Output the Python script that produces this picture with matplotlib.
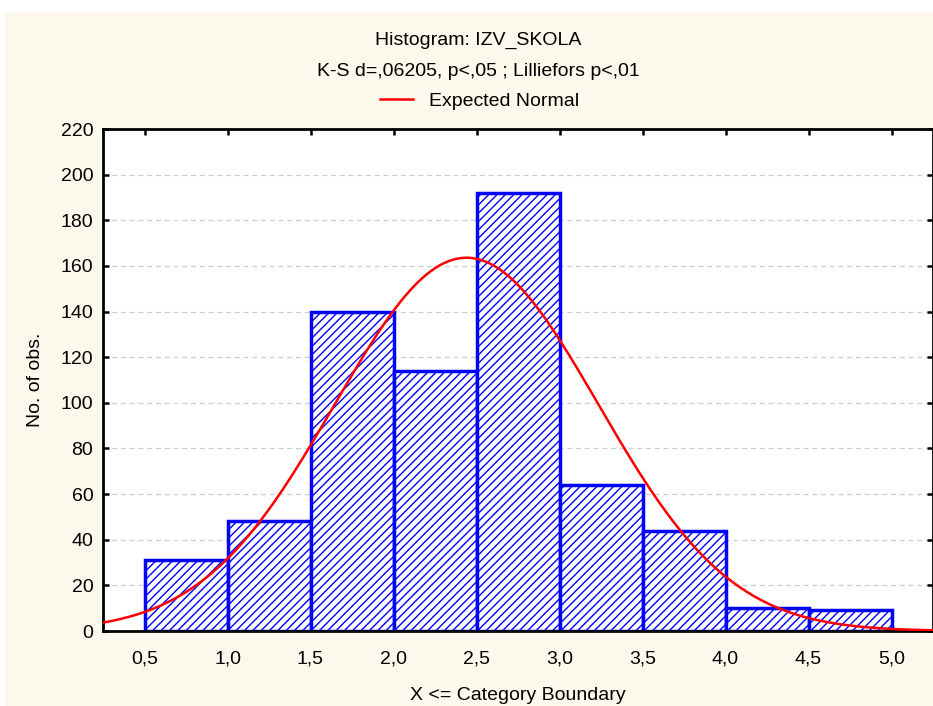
import matplotlib.pyplot as plt
import numpy as np
from matplotlib.patches import Rectangle
from matplotlib.lines import Line2D

# category boundaries and counts
bin_left = [0.5, 1.0, 1.5, 2.0, 2.5, 3.0, 3.5, 4.0, 4.5]
counts = [31, 48, 140, 114, 192, 64, 44, 10, 9]
bin_width = 0.5

# expected normal parameters
mean = 2.44
sd = 0.795

xticks = [0.5, 1.0, 1.5, 2.0, 2.5, 3.0, 3.5, 4.0, 4.5, 5.0]
yticks = list(range(0, 221, 20))

plt.rcParams['font.family'] = ['Liberation Sans', 'DejaVu Sans']
plt.rcParams['hatch.color'] = '#4848ff'
plt.rcParams['hatch.linewidth'] = 1.0

fs = 14
cream = '#fcf8ec'
fig = plt.figure(figsize=[9.33, 7.06], dpi=100, facecolor='white')
fig.patches.append(Rectangle((5 / 933, 0), 1, 1 - 12 / 706, transform=fig.transFigure,
                             facecolor=cream, edgecolor='none', zorder=-10))

ax = fig.add_axes([103 / 933, 1 - 631 / 706, 1 - 103 / 933, (631 - 129) / 706])
ax.set_facecolor('white')

ax.bar(bin_left, counts, width=bin_width, align='edge', facecolor='white',
       edgecolor='#0000ff', linewidth=2.5, hatch='////', zorder=2)

n = sum(counts)
xs = np.linspace(0.25, 5.3, 400)
ys = n * bin_width / (sd * np.sqrt(2 * np.pi)) * np.exp(-0.5 * ((xs - mean) / sd) ** 2)
ax.plot(xs, ys, color='red', lw=1.8, zorder=3)

ax.set_xlim(0.25, 5.25)
ax.set_ylim(0, 220)
ax.set_xticks(xticks)
ax.set_xticklabels([f'{v:.1f}'.replace('.', ',') for v in xticks])
ax.set_yticks(yticks)
ax.yaxis.grid(True, linestyle=(0, (4, 3)), color='#cccccc', lw=0.9, zorder=0)
ax.set_axisbelow(True)
ax.tick_params(direction='in', length=4, width=1.8, labelsize=fs,
               top=True, right=True, pad=7)
ax.tick_params(axis='x', pad=14)
for s in ax.spines.values():
    s.set_linewidth(2)

ax.set_xlabel('X <= Category Boundary', fontsize=fs, labelpad=14)
ax.set_ylabel('No. of obs.', fontsize=fs, labelpad=12)

fig.text(0.513, 1 - 40 / 706, 'Histogram: IZV_SKOLA', ha='center', va='center', fontsize=fs)
fig.text(0.513, 1 - 72 / 706, 'K-S d=,06205, p<,05 ; Lilliefors p<,01', ha='center', va='center', fontsize=fs)
fig.legend(handles=[Line2D([], [], color='red', lw=1.8)], labels=['Expected Normal'],
           loc='center', bbox_to_anchor=(0.514, 1 - 101 / 706), frameon=False,
           fontsize=fs, handlelength=1.7, handletextpad=0.8)

plt.savefig('out.png', dpi=100, facecolor=fig.get_facecolor())
